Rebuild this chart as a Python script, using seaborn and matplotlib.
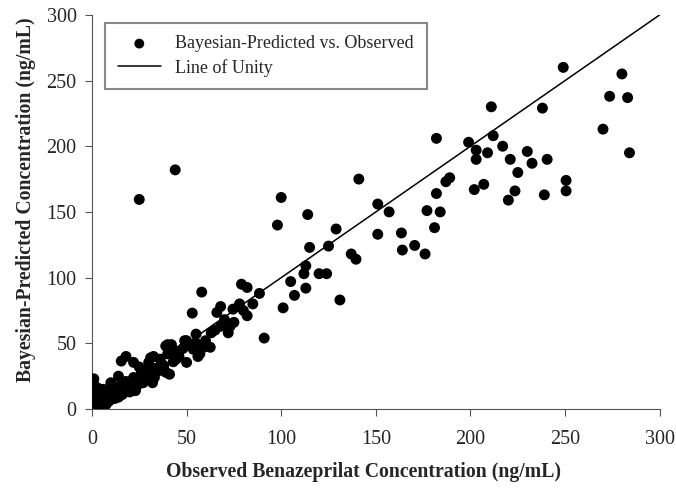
import numpy as np
import pandas as pd
import matplotlib
matplotlib.use("Agg")
import matplotlib.pyplot as plt
import seaborn as sns

sns.set_style("ticks")
plt.rcParams['font.family'] = ['Liberation Serif', 'DejaVu Serif']

# observed vs bayesian-predicted
upper_obs = [249, 280, 273.5, 283, 270, 284, 211, 238, 182, 199, 212, 203, 203, 209, 217, 221,
             230, 232.5, 240.5, 225, 223.5, 220, 207, 202, 239, 250.5, 250.5, 189, 187, 182, 177, 184]
upper_pred = [260, 255, 238, 237, 213, 195, 230, 229, 206, 203, 208, 197, 190, 195, 200, 190,
              196, 187, 190, 180, 166, 159, 171, 167, 163, 174, 166, 176, 173, 164, 151, 150]

mid_obs = [141, 100, 114, 98, 151, 157, 181, 129, 115, 125, 151, 163.5, 164, 170.5, 176, 137,
           139.5, 113, 112, 120, 124, 105, 113, 107, 131, 101, 79, 82, 88.5, 82, 77.5, 25, 44]
mid_pred = [175, 161, 148, 140, 156, 150, 138, 137, 123, 124, 133, 134, 121, 124.5, 118, 118,
            114, 109, 103, 103, 103, 97, 92, 86.5, 83, 77, 95, 92.5, 88, 71, 78, 159.5, 182]

low_obs = [58, 53, 91, 68, 66, 74.5, 75, 72, 68, 63, 62.5, 56, 55, 50, 40, 39, 31, 18, 15.5, 1,
           10, 14, 22, 25, 30, 32.5, 39, 42, 44.5, 49, 53.5, 37, 2, 7.5, 14, 23, 32, 41, 50, 57]
low_pred = [89, 73, 54, 78, 73.5, 76, 66, 58, 63, 58, 47, 40, 57, 52, 49, 28, 39, 40, 36.5, 23,
            20, 25, 35.5, 32, 35.5, 40, 48, 49, 38, 52, 45.5, 34, 0, 3.5, 9, 14, 20, 26.5, 35.5, 42]

cluster_obs = [0.5, 0.5, 0.5, 0.5, 0.5, 0.5, 1, 1.5, 2, 2, 2.5, 3, 3, 4, 4, 5, 5, 6, 6, 7, 8, 8,
               9, 10, 11, 11, 12, 13, 14, 15, 16, 17, 18, 19, 20, 21, 22, 24, 25, 26, 27, 28, 29,
               31, 33, 34, 35, 36, 38, 40, 43, 45, 46, 48, 52, 55, 59, 60, 65, 70, 73, 78, 80, 85]
cluster_pred = [2, 5, 8, 11, 14, 17, 19, 1, 4, 7, 10, 13, 16, 2, 6, 9, 12, 15, 5, 8, 11, 14,
                6, 10, 13, 17, 8, 15, 12, 18, 11, 14, 21, 16, 13, 19, 24, 18, 22, 27, 20, 25, 30,
                27, 24, 31, 29, 38, 33, 42, 36, 44, 40, 46, 48, 50, 47, 52, 60, 68, 63, 80, 75, 80]

observed = upper_obs + mid_obs + low_obs + cluster_obs
predicted = upper_pred + mid_pred + low_pred + cluster_pred
df = pd.DataFrame({"observed": observed, "predicted": predicted})

unity = [0, 300]

fig = plt.figure(figsize=(6.76, 4.94), dpi=100)
ax = fig.add_axes([0.136, 0.172, 0.84, 0.798])

sns.lineplot(x=unity, y=unity, ax=ax, color="black", linewidth=1.1, label="Line of Unity")
sns.scatterplot(data=df, x="observed", y="predicted", ax=ax, color="black", s=62,
                edgecolor="none", label="Bayesian-Predicted vs. Observed", zorder=3)

ax.set_xlim(0, 300)
ax.set_ylim(0, 300)
ticks = np.arange(0, 301, 50)
ax.set_xticks(ticks)
ax.set_yticks(ticks)
ax.tick_params(labelsize=14.5, direction="out", length=5, color="#555555")
ax.tick_params(axis="x", pad=10)
ax.tick_params(axis="y", pad=6)
sns.despine(ax=ax)
for sp in ["left", "bottom"]:
    ax.spines[sp].set_color("#555555")

ax.set_xlabel("Observed Benazeprilat Concentration (ng/mL)", fontsize=14.2,
              fontweight="bold")
ax.set_ylabel("Bayesian-Predicted Concentration (ng/mL)", fontsize=14.2,
              fontweight="bold")
ax.xaxis.set_label_coords(0.478, -0.135)
ax.yaxis.set_label_coords(-0.098, 0.53)

h, l = ax.get_legend_handles_labels()
leg = ax.legend(h[::-1], l[::-1], loc="upper left", bbox_to_anchor=(0.023, 0.98),
                borderaxespad=0, fontsize=13, fancybox=False, edgecolor="#888888",
                framealpha=1, handlelength=2.4, borderpad=0.7, labelspacing=0.35,
                markerscale=0.9)
leg.get_frame().set_linewidth(1.5)

fig.savefig("out.png", dpi=100)
